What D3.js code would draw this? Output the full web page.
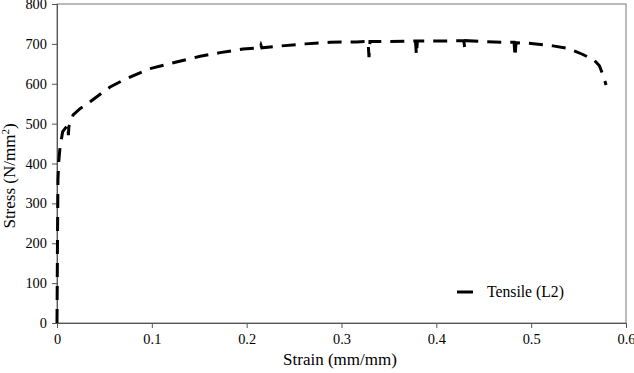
<!DOCTYPE html>
<html>
<head>
<meta charset="utf-8">
<script src="https://cdn.jsdelivr.net/npm/d3@7"></script>
<style>
  body { margin: 0; background: #fff; }
  text { font-family: "Liberation Serif", "Times New Roman", serif; fill: #000; }
</style>
</head>
<body>
<svg id="chart" width="634" height="373"></svg>
<script>
// strain (mm/mm) and stress (N/mm2)
const strain = [0, 0.0005, 0.001, 0.0018, 0.0032, 0.006, 0.0115, 0.012, 0.0125, 0.017, 0.024, 0.035,
  0.049, 0.056, 0.07, 0.085, 0.098, 0.12, 0.151, 0.172, 0.196, 0.214, 0.215, 0.216, 0.237, 0.262,
  0.288, 0.316, 0.328, 0.329, 0.330, 0.35, 0.378, 0.379, 0.380, 0.40, 0.429, 0.430, 0.431, 0.45,
  0.47, 0.482, 0.483, 0.484, 0.50, 0.523, 0.54, 0.554, 0.566, 0.572, 0.576, 0.579];
const stress = [0, 200, 360, 404, 441, 480, 497, 471, 492, 522, 537, 555,
  580, 592, 609, 625, 638, 651, 669, 678, 687, 690, 697, 690, 695, 700,
  704, 705, 706, 667, 706, 706, 707, 672, 707, 707, 708, 687, 708, 706,
  704, 704, 667, 703, 701, 695, 688, 674, 660, 645, 620, 597];
const xTicks = [0, 0.1, 0.2, 0.3, 0.4, 0.5, 0.6];
const yTicks = [0, 100, 200, 300, 400, 500, 600, 700, 800];
const seriesName = 'Tensile (L2)';

const margin = { top: 4, right: 8, bottom: 50, left: 57 };
const width = 634, height = 373;
const svg = d3.select('#chart');

const x = d3.scaleLinear().domain([0, 0.6]).range([margin.left, width - margin.right]);
const y = d3.scaleLinear().domain([0, 800]).range([height - margin.bottom, margin.top]);

// plot box
svg.append('rect')
  .attr('x', x(0)).attr('y', y(800))
  .attr('width', x(0.6) - x(0)).attr('height', y(0) - y(800))
  .attr('fill', 'none').attr('stroke', '#777').attr('stroke-width', 1);

const xAxis = svg.append('g')
  .attr('transform', `translate(0,${y(0)})`)
  .call(d3.axisBottom(x).tickValues(xTicks).tickSize(5).tickPadding(6).tickFormat(d => d === 0 ? '0' : d3.format('.1f')(d)));
const yAxis = svg.append('g')
  .attr('transform', `translate(${x(0)},0)`)
  .call(d3.axisLeft(y).tickValues(yTicks).tickSize(5).tickPadding(5));

[xAxis, yAxis].forEach(g => {
  g.attr('font-family', null);
  g.select('.domain').attr('stroke', '#555');
  g.selectAll('.tick line').attr('stroke', '#555');
  g.selectAll('.tick text').attr('font-size', 14.4);
});

const line = d3.line().x((d, i) => x(strain[i])).y(d => y(d));

svg.append('path')
  .datum(stress)
  .attr('d', line)
  .attr('fill', 'none')
  .attr('stroke', '#000')
  .attr('stroke-width', 3)
  .attr('stroke-dasharray', '14,9');

// axis titles
svg.append('text')
  .attr('x', 340).attr('y', 365)
  .attr('text-anchor', 'middle').attr('font-size', 17)
  .text('Strain (mm/mm)');

svg.append('text')
  .attr('transform', 'translate(15,176) rotate(-90)')
  .attr('text-anchor', 'middle').attr('font-size', 17)
  .html('Stress (N/mm<tspan dy="-6" font-size="11">2</tspan><tspan dy="6">)</tspan>');

// legend
const lg = svg.append('g').attr('transform', 'translate(457,292)');
lg.append('line').attr('x1', 0).attr('x2', 16).attr('y1', 0).attr('y2', 0)
  .attr('stroke', '#000').attr('stroke-width', 3);
lg.append('text').attr('x', 30).attr('y', 5).attr('font-size', 15.7).text(seriesName);
</script>
</body>
</html>
